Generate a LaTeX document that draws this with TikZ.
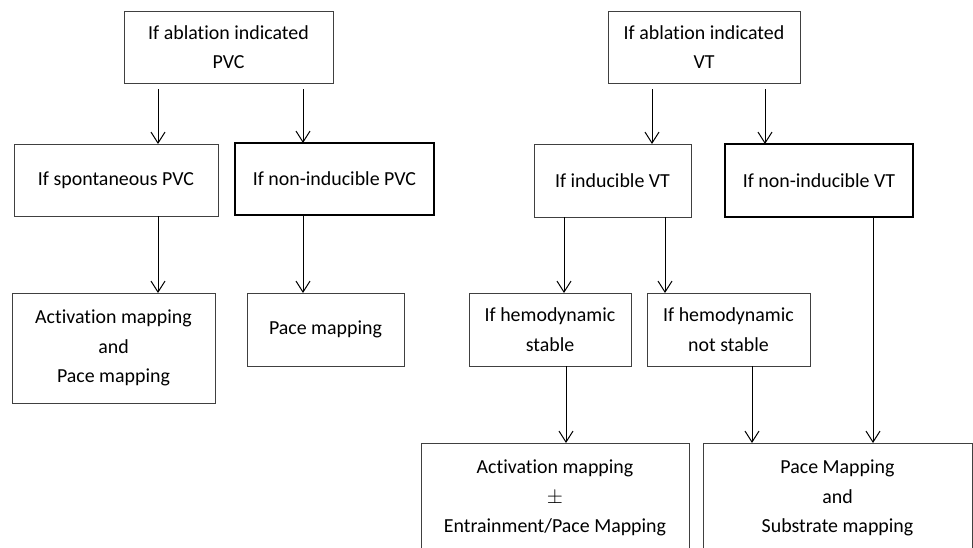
\documentclass[tikz,border=0pt]{standalone}
\usepackage{fontspec}
\setmainfont{Carlito}[Ligatures=NoCommon]
\usepackage{tikz}
\usetikzlibrary{arrows.meta}

\begin{document}
\begin{tikzpicture}[x=1pt,y=-1pt,
    n/.style={draw=black!75,line width=0.8pt,inner sep=0pt,outer sep=0pt,minimum height=72pt,align=center,font=\fontsize{19.9}{29.5}\selectfont},
    nb/.style={n,draw=black,line width=1.25pt},
    a/.style={-{Straight Barb[length=11pt,width=14pt,line width=1pt]},line width=1pt,draw=black}]
    \useasboundingbox (0,0) rectangle (973,547);
    \node[n,minimum width=209pt] (pvc) at (228.5,47) {If ablation indicated\\PVC};
    \node[n,minimum width=204pt] (spont) at (116,180) {If spontaneous PVC};
    \node[nb,minimum width=199pt] (nipvc) at (334.5,179) {If non-inducible PVC};
    \node[n,minimum width=203pt,minimum height=110pt] (actpace) at (113.5,348) {Activation mapping\\and\\Pace mapping};
    \node[n,minimum width=157pt,minimum height=73pt] (pace) at (325.5,329.5) {Pace mapping};
    \node[n,minimum width=192pt] (vt) at (704,47) {If ablation indicated\\VT};
    \node[n,minimum width=157pt,minimum height=73pt] (indvt) at (612.5,180.5) {If inducible VT};
    \node[nb,minimum width=188pt,minimum height=73pt] (nivt) at (819,180.5) {If non-inducible VT};
    \node[n,minimum width=162pt,minimum height=73pt] (stable) at (550,329.5) {If hemodynamic\\stable};
    \node[n,minimum width=163pt,minimum height=73pt] (unstable) at (728.5,329.5) {If hemodynamic\\not stable};
    \node[n,minimum width=268pt,minimum height=110pt] (entr) at (555,498) {Activation mapping\\$\pm$\\Entrainment/Pace Mapping};
    \node[n,minimum width=269pt,minimum height=110pt] (pacesub) at (837.5,498) {Pace Mapping\\and\\Substrate mapping};
    \coordinate (pa) at (158,89); \coordinate (pb) at (303,89);
    \coordinate (va) at (652,89); \coordinate (vb) at (765,89);
    \coordinate (ia) at (564,0); \coordinate (ib) at (665,0);
    \coordinate (sa) at (566,0); \coordinate (ua) at (752,0); \coordinate (na) at (873,0);
    \draw[a] (pa) -- (pa |- spont.north); \draw[a] (pb) -- (pb |- nipvc.north);
    \draw[a] (spont.south -| pa) -- (pa |- actpace.north); \draw[a] (nipvc.south -| pb) -- (pb |- pace.north);
    \draw[a] (va) -- (va |- indvt.north); \draw[a] (vb) -- (vb |- nivt.north);
    \draw[a] (indvt.south -| ia) -- (ia |- stable.north); \draw[a] (indvt.south -| ib) -- (ib |- unstable.north);
    \draw[a] (stable.south -| sa) -- (sa |- entr.north); \draw[a] (unstable.south -| ua) -- (ua |- pacesub.north);
    \draw[a] (nivt.south -| na) -- (na |- pacesub.north);
  \end{tikzpicture}
\end{document}
